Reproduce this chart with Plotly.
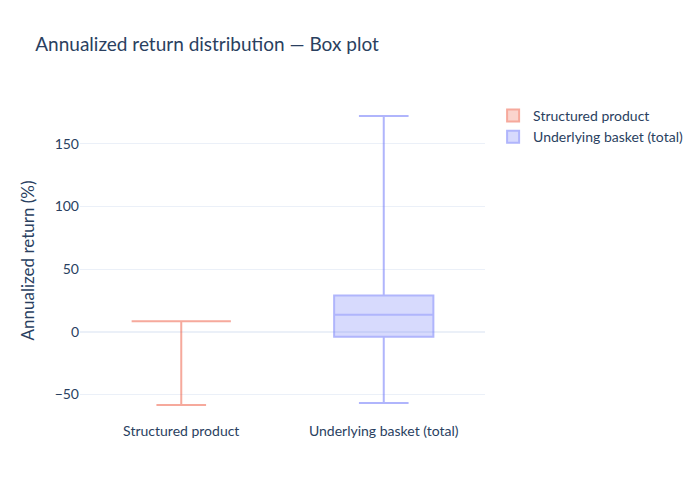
import plotly.graph_objects as go

categories = ["Structured product", "Underlying basket (total)"]
colors = ["#EF553B", "#636EFA"]

# box statistics (annualized return, %)
q1 = [8.4, -4.0]
median = [8.4, 13.6]
q3 = [8.4, 28.8]
lowerfence = [-58.4, -56.8]
upperfence = [8.4, 172.0]

fig = go.Figure()
for i, name in enumerate(categories):
    fig.add_trace(go.Box(
        name=name,
        x=[name],
        q1=[q1[i]],
        median=[median[i]],
        q3=[q3[i]],
        lowerfence=[lowerfence[i]],
        upperfence=[upperfence[i]],
        marker_color=colors[i],
        opacity=0.5,
        boxpoints=False,
    ))

fig.update_layout(
    title=dict(text="Annualized return distribution — Box plot", x=0.039,
               y=0.928, yanchor="middle", font=dict(size=19)),
    yaxis=dict(title=dict(text="Annualized return (%)", font=dict(size=17)),
               automargin=False),
    xaxis=dict(automargin=False),
    template="plotly_white",
    font=dict(family="Lato", size=14),
    margin=dict(l=72, r=223, t=92, b=87),
    width=700,
    height=500,
)

fig.write_html("out.html")
